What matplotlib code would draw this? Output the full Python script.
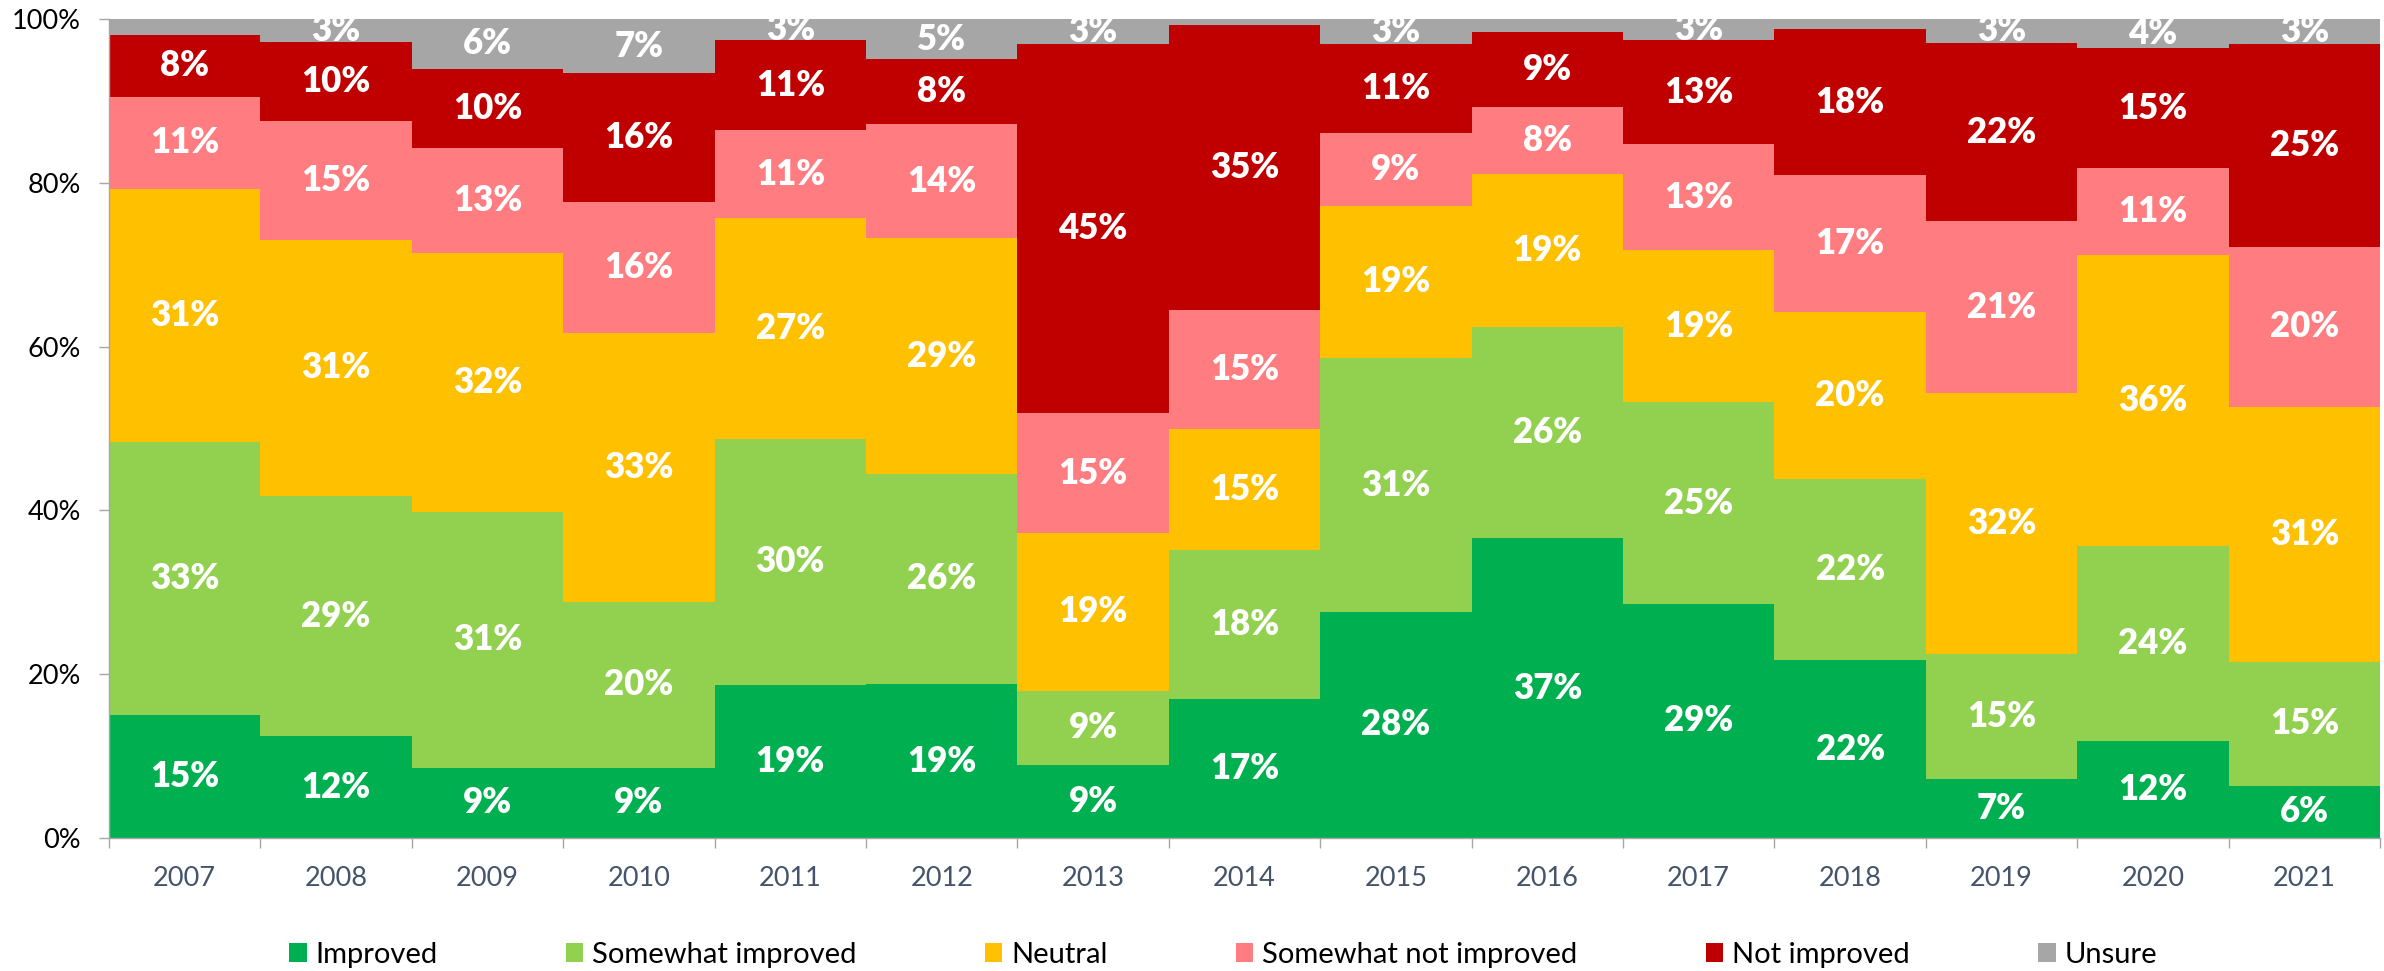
import matplotlib
matplotlib.use("Agg")
import matplotlib.pyplot as plt
import numpy as np

plt.rcParams['font.family'] = ['Lato', 'DejaVu Sans']

years = ["2007", "2008", "2009", "2010", "2011", "2012", "2013", "2014",
         "2015", "2016", "2017", "2018", "2019", "2020", "2021"]

# shares in percent, bottom to top
improved = [15.0, 12.4, 8.6, 8.6, 18.7, 18.8, 8.9, 17.0, 27.6, 36.6, 28.6, 21.7, 7.2, 11.9, 6.4]
somewhat_improved = [33.3, 29.4, 31.2, 20.2, 30.0, 25.7, 9.1, 18.2, 31.0, 25.8, 24.6, 22.1, 15.3, 23.7, 15.1]
neutral = [31.0, 31.2, 31.6, 32.8, 27.0, 28.7, 19.2, 14.7, 18.6, 18.7, 18.6, 20.4, 31.8, 35.6, 31.1]
somewhat_not_improved = [11.2, 14.6, 12.9, 16.1, 10.7, 14.0, 14.7, 14.6, 8.9, 8.1, 12.9, 16.7, 21.0, 10.6, 19.6]
not_improved = [7.6, 9.6, 9.6, 15.7, 11.0, 7.9, 45.1, 34.8, 10.9, 9.2, 12.7, 17.9, 21.8, 14.6, 24.8]
unsure = [1.9, 2.8, 6.1, 6.6, 2.6, 4.9, 3.0, 0.7, 3.0, 1.6, 2.6, 1.2, 2.9, 3.6, 3.0]

series = [
    ("Improved", improved, "#00B050"),
    ("Somewhat improved", somewhat_improved, "#92D050"),
    ("Neutral", neutral, "#FFC000"),
    ("Somewhat not improved", somewhat_not_improved, "#FF7C80"),
    ("Not improved", not_improved, "#C00000"),
    ("Unsure", unsure, "#A6A6A6"),
]

W, H = 2384, 971
fig = plt.figure(figsize=(W / 100, H / 100), dpi=100)
ax = fig.add_axes([109 / W, 1 - 838 / H, (2380 - 109) / W, (838 - 19) / H])

x = np.arange(len(years))
bottom = np.zeros(len(years))
for name, vals, col in series:
    vals = np.array(vals)
    ax.bar(x, vals, width=1.0, bottom=bottom, color=col, label=name, linewidth=0)
    for xi, b, v in zip(x, bottom, vals):
        if v >= 2.5:
            ax.text(xi, b + v / 2, f"{v:.0f}%", ha="center", va="center",
                    color="white", fontsize=25, fontweight="heavy", clip_on=True)
    bottom += vals

ax.set_xlim(-0.5, len(years) - 0.5)
ax.set_ylim(0, 100)

# tick marks on bar boundaries, labels at bar centres
ax.set_xticks(np.arange(-0.5, len(years), 1.0))
ax.set_xticklabels([])
ax.set_xticks(x, minor=True)
ax.set_xticklabels(years, minor=True)
ax.tick_params(axis="x", which="major", direction="out", length=7, width=1, color="#A6A6A6")
ax.tick_params(axis="x", which="minor", length=0, pad=20, labelsize=19.5, labelcolor="#44546A")

ax.set_yticks(np.arange(0, 101, 20))
ax.set_yticklabels([f"{v}%" for v in range(0, 101, 20)])
ax.tick_params(axis="y", direction="out", length=7, width=1, color="#A6A6A6",
               pad=13, labelsize=19.5, labelcolor="black")

for s in ["top", "right"]:
    ax.spines[s].set_visible(False)
for s in ["left", "bottom"]:
    ax.spines[s].set_color("#A6A6A6")
    ax.spines[s].set_linewidth(1.0)

fig.legend(loc="center", bbox_to_anchor=(1223 / W, 1 - 955 / H), ncol=6, frameon=False,
           fontsize=21, handlelength=0.6, handleheight=0.6, handletextpad=0.3,
           columnspacing=4.4, borderpad=0)

fig.savefig("out.png", dpi=100)
